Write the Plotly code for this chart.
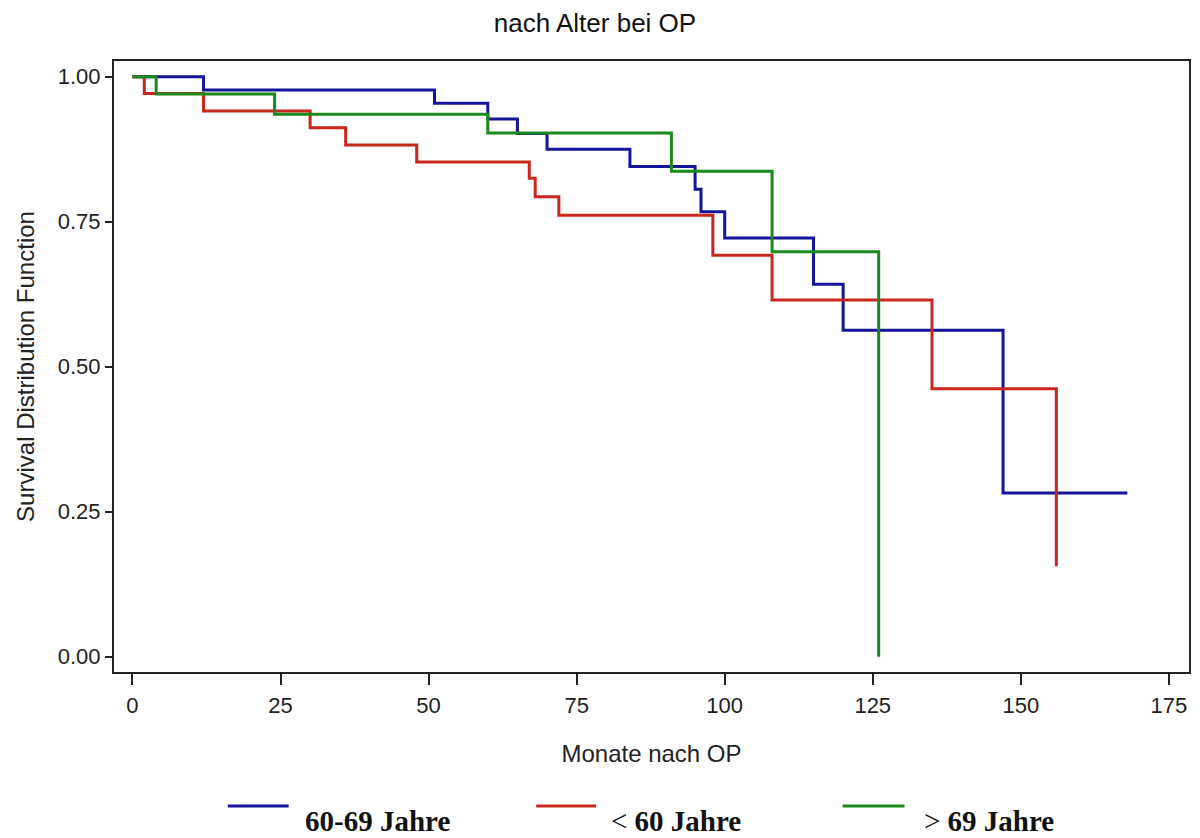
import plotly.graph_objects as go

# Kaplan-Meier step data (months after surgery, survival estimate)
t_60_69 = [0, 12, 51, 60, 65, 70, 84, 95, 96, 100, 115, 120, 147, 168]
s_60_69 = [1.0, 0.977, 0.954, 0.927, 0.902, 0.875, 0.845, 0.806, 0.767, 0.722, 0.642, 0.563, 0.282, 0.282]

t_lt60 = [0, 2, 12, 30, 36, 48, 67, 68, 72, 98, 108, 135, 156]
s_lt60 = [1.0, 0.971, 0.941, 0.912, 0.882, 0.853, 0.825, 0.793, 0.761, 0.692, 0.615, 0.462, 0.156]

t_gt69 = [0, 4, 24, 60, 91, 108, 126]
s_gt69 = [1.0, 0.970, 0.935, 0.903, 0.837, 0.698, 0.0]

x_ticks = [0, 25, 50, 75, 100, 125, 150, 175]
y_ticks = [0.0, 0.25, 0.5, 0.75, 1.0]
y_ticklabels = ["0.00", "0.25", "0.50", "0.75", "1.00"]

groups = [
    ("60-69 Jahre", "<b>60-69 Jahre</b>", t_60_69, s_60_69, "#15159a"),
    ("< 60 Jahre", "&lt; <b>60 Jahre</b>", t_lt60, s_lt60, "#c8261e"),
    ("> 69 Jahre", "&gt; <b>69 Jahre</b>", t_gt69, s_gt69, "#1b881b"),
]

fig = go.Figure()
for name, _, t, s, color in groups:
    fig.add_trace(go.Scatter(
        x=t, y=s, name=name, mode="lines",
        line=dict(shape="hv", color=color, width=3),
        showlegend=False,
    ))

# Plot area in pixels: left 114, right 1191, top 61, bottom 672
L, R, T, B = 114, 1191, 61, 672
W, H = R - L, B - T

def px(x):
    return (x - L) / W

def py(y):
    return (B - y) / H

# Custom legend below the axis: line sample plus label
legend_layout = [(228, 289, 303), (537, 597, 610), (844, 906, 924)]
for (x0, x1, xt), (_, label, _, _, color) in zip(legend_layout, groups):
    fig.add_shape(type="line", xref="paper", yref="paper",
                  x0=px(x0), x1=px(x1), y0=py(806), y1=py(806),
                  line=dict(color=color, width=3))
    fig.add_annotation(xref="paper", yref="paper", x=px(xt), y=py(821),
                       xanchor="left", yanchor="middle", showarrow=False,
                       text=label,
                       font=dict(family="Liberation Serif, Times New Roman, serif",
                                 size=29, color="#111"))

axis_font = dict(family="Liberation Sans, Arial, sans-serif", size=22, color="#222")

fig.update_layout(
    width=1200, height=838,
    margin=dict(l=L, r=1200 - R, t=T, b=838 - B),
    paper_bgcolor="white", plot_bgcolor="white",
    title=dict(text="nach Alter bei OP", x=595 / 1200, xref="container",
               y=1 - 23 / 838, yref="container", xanchor="center", yanchor="middle",
               font=dict(family="Liberation Sans, Arial, sans-serif", size=26, color="#111")),
    xaxis=dict(
        range=[-3.12, 178.4], tickvals=x_ticks, ticks="outside", ticklen=11,
        tickwidth=2, tickcolor="#222", showgrid=False, zeroline=False,
        showline=True, linecolor="#222", linewidth=2, mirror=True,
        tickfont=axis_font, ticklabelstandoff=2,
        title=dict(text="Monate nach OP", font=axis_font | dict(size=24), standoff=28),
    ),
    yaxis=dict(
        range=[-0.0264, 1.027], tickvals=y_ticks, ticktext=y_ticklabels,
        ticks="outside", ticklen=7, tickwidth=2, tickcolor="#222",
        showgrid=False, zeroline=False, showline=True, linecolor="#222",
        linewidth=2, mirror=True, tickfont=axis_font, ticklabelstandoff=0,
        title=dict(text="Survival Distribution Function", font=axis_font | dict(size=24),
                   standoff=16),
    ),
)

fig.write_html("out.html")
